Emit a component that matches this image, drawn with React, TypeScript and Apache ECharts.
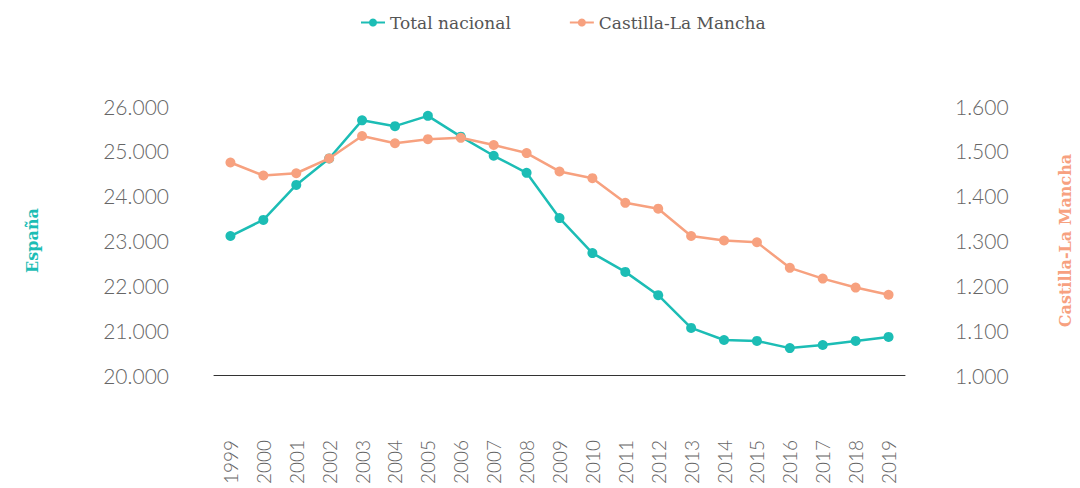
import React, { useEffect, useRef } from "react";
import * as echarts from "echarts";

const years = ["1999","2000","2001","2002","2003","2004","2005","2006","2007","2008","2009","2010","2011","2012","2013","2014","2015","2016","2017","2018","2019"];
const totalNacional = [23100,23460,24240,24830,25680,25550,25780,25316,24890,24510,23500,22720,22300,21780,21050,20780,20760,20600,20670,20760,20850];
const castillaLaMancha = [1474,1445,1450,1483,1533,1517,1526,1529,1513,1495,1454,1439,1384,1371,1310,1300,1296,1239,1215,1195,1179];

const TEAL = "#1cbdb5";
const ORANGE = "#f7a17f";

const fmt = (v: number) => String(v).replace(/\B(?=(\d{3})+(?!\d))/g, ".");

export default function App() {
  const ref = useRef<HTMLDivElement>(null);
  useEffect(() => {
    if (!ref.current) return;
    const chart = echarts.init(ref.current, undefined, { renderer: "svg" });
    chart.setOption({
      animation: false,
      backgroundColor: "#ffffff",
      legend: {
        top: 9,
        left: 355,
        itemGap: 58,
        itemWidth: 24,
        itemHeight: 10,
        textStyle: { fontFamily: "DejaVu Serif", fontSize: 17, color: "#555555", fontWeight: 300 },
        data: ["Total nacional", "Castilla-La Mancha"],
      },
      grid: { left: 214, right: 175, top: 106, bottom: 113, containLabel: false, outerBoundsMode: "none" },
      xAxis: {
        type: "category",
        data: years,
        boundaryGap: true,
        axisLine: { lineStyle: { color: "#333333", width: 1 } },
        axisTick: { show: false },
        axisLabel: { rotate: 90, margin: 65, fontFamily: "Lato", fontWeight: 300, fontSize: 19, color: "#666666" },
      },
      yAxis: [
        {
          type: "value",
          min: 20000,
          max: 26000,
          interval: 1000,
          name: "España",
          nameLocation: "middle",
          nameRotate: 90,
          nameGap: 174,
          nameTextStyle: { fontFamily: "DejaVu Serif", fontWeight: "bold", fontSize: 16, color: TEAL },
          splitLine: { show: false },
          axisLine: { show: false },
          axisTick: { show: false },
          axisLabel: { margin: 45, fontFamily: "Lato", fontWeight: 300, fontSize: 21, color: "#666666", formatter: fmt },
        },
        {
          type: "value",
          min: 1000,
          max: 1600,
          interval: 100,
          name: "Castilla-La Mancha",
          nameLocation: "middle",
          nameRotate: 90,
          nameGap: 152,
          nameTextStyle: { fontFamily: "DejaVu Serif", fontWeight: "bold", fontSize: 16, color: ORANGE },
          splitLine: { show: false },
          axisLine: { show: false },
          axisTick: { show: false },
          axisLabel: { margin: 50, fontFamily: "Lato", fontWeight: 300, fontSize: 21, color: "#666666", formatter: fmt },
        },
      ],
      series: [
        {
          name: "Total nacional",
          type: "line",
          yAxisIndex: 0,
          data: totalNacional,
          symbol: "circle",
          symbolSize: 10,
          lineStyle: { color: TEAL, width: 2.5 },
          itemStyle: { color: TEAL },
          z: 2,
        },
        {
          name: "Castilla-La Mancha",
          type: "line",
          yAxisIndex: 1,
          data: castillaLaMancha,
          symbol: "circle",
          symbolSize: 10,
          lineStyle: { color: ORANGE, width: 2.5 },
          itemStyle: { color: ORANGE },
          z: 3,
        },
      ],
    });
    return () => chart.dispose();
  }, []);
  return <div ref={ref} style={{ position: "fixed", left: 0, top: 0, width: 1080, height: 488 }} />;
}
